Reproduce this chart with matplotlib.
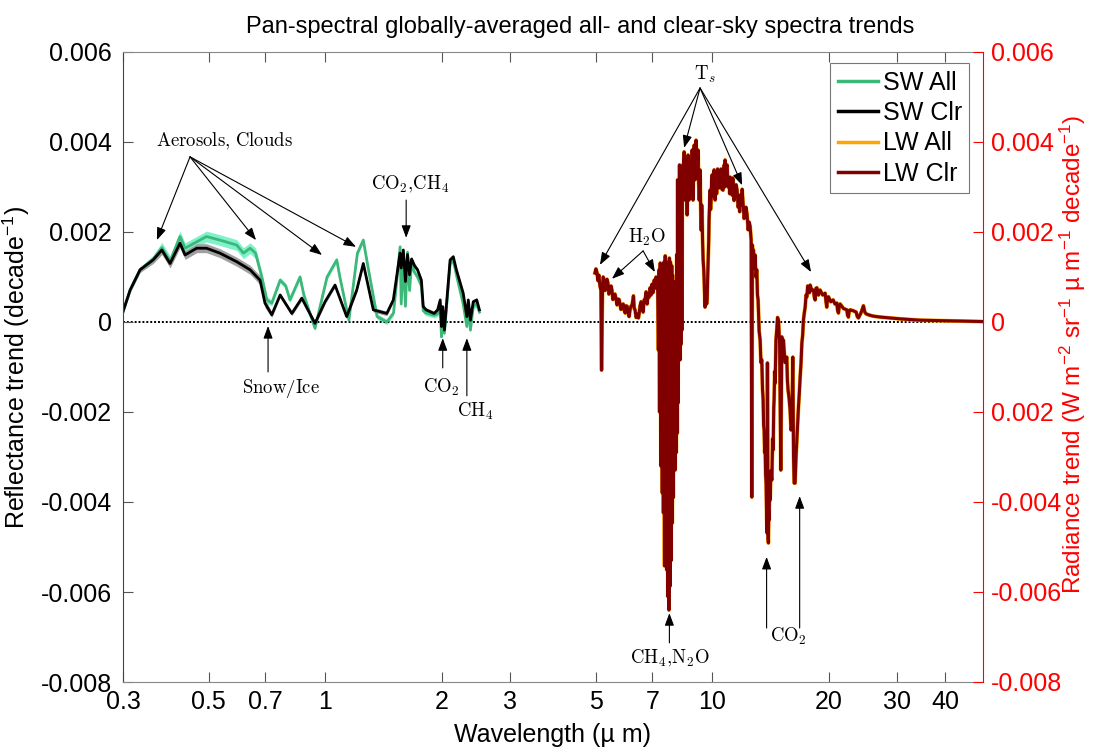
import numpy as np
import matplotlib
matplotlib.use("Agg")
import matplotlib.pyplot as plt
from matplotlib.lines import Line2D
from matplotlib.ticker import FixedLocator, FixedFormatter, NullLocator

plt.rcParams["font.family"] = ["Liberation Sans", "DejaVu Sans"]
plt.rcParams["mathtext.fontset"] = "custom"
plt.rcParams["mathtext.rm"] = "Liberation Sans"
plt.rcParams["mathtext.it"] = "Liberation Sans:italic"
plt.rcParams["mathtext.sf"] = "Liberation Sans"

# ---- data (trends in units of 1e-3 per decade) ----
sw_all_wl = [0.300, 0.313, 0.332, 0.359, 0.378, 0.397, 0.421, 0.434, 0.465, 0.493,
             0.534, 0.590, 0.614, 0.639, 0.660, 0.685, 0.706, 0.727, 0.764, 0.790,
             0.810, 0.860, 0.880, 0.940, 1.010, 1.070, 1.090, 1.150, 1.210, 1.253,
             1.290, 1.360, 1.441, 1.500, 1.560, 1.57, 1.59, 1.61, 1.63, 1.65,
             1.67, 1.70, 1.73, 1.77, 1.79, 1.82, 1.91, 1.95, 1.98, 1.995,
             2.01, 2.03, 2.10, 2.14, 2.18, 2.27, 2.32, 2.34, 2.37, 2.41,
             2.46, 2.50]
sw_all_trend = [0.23, 0.71, 1.16, 1.40, 1.65, 1.35, 1.90, 1.64, 1.78, 1.90,
                1.82, 1.71, 1.53, 1.64, 1.53, 1.00, 0.49, 0.42, 0.93, 0.80,
                0.49, 1.00, 0.60, -0.14, 1.00, 1.38, 1.00, 0.04, 1.53, 1.82,
                1.20, 0.12, 0.00, 0.20, 1.67, 0.40, 1.45, 0.35, 1.55, 0.70,
                1.30, 1.10, 1.00, 0.80, 0.25, 0.20, 0.15, 0.18, 0.30, -0.33,
                0.10, -0.25, 1.30, 1.38, 1.05, 0.40, -0.10, 0.40, -0.18, 0.35,
                0.40, 0.22]
sw_all_err = [0.05, 0.05, 0.06, 0.08] + [0.12] * 12 + [0.08] + [0.06] * 45

sw_clr_wl = [0.300, 0.313, 0.332, 0.359, 0.378, 0.397, 0.421, 0.434, 0.465, 0.493,
             0.534, 0.590, 0.639, 0.678, 0.698, 0.727, 0.764, 0.819, 0.869, 0.940,
             0.998, 1.059, 1.135, 1.205, 1.253, 1.330, 1.441, 1.498, 1.559, 1.57,
             1.59, 1.61, 1.63, 1.65, 1.67, 1.70, 1.73, 1.77, 1.79, 1.82,
             1.91, 1.95, 1.98, 1.995, 2.01, 2.03, 2.10, 2.14, 2.18, 2.27,
             2.32, 2.34, 2.37, 2.41, 2.46, 2.50]
sw_clr_trend = [0.23, 0.71, 1.16, 1.38, 1.60, 1.30, 1.75, 1.49, 1.64, 1.64,
                1.53, 1.34, 1.16, 0.93, 0.42, 0.16, 0.60, 0.19, 0.53, -0.03,
                0.45, 0.82, 0.12, 0.71, 1.30, 0.27, 0.19, 0.49, 1.53, 1.20,
                1.60, 0.90, 1.50, 1.05, 1.40, 1.25, 1.16, 0.93, 0.34, 0.27,
                0.19, 0.27, 0.49, -0.10, 0.34, -0.18, 1.38, 1.45, 1.16, 0.64,
                0.12, 0.49, 0.04, 0.45, 0.49, 0.27]
sw_clr_err = [0.05, 0.05, 0.06, 0.08] + [0.10] * 11 + [0.06] + [0.05] * 40

# LW clear-sky radiance trend, split by spectral region
lw_wl_h2o = [4.97, 5.00, 5.03, 5.06, 5.09, 5.12, 5.15, 5.17, 5.20, 5.22,
             5.25, 5.28, 5.31, 5.34, 5.37, 5.40, 5.44, 5.47, 5.50, 5.53,
             5.57, 5.60, 5.64, 5.67, 5.70, 5.74, 5.77, 5.80, 5.84, 5.88,
             5.91, 5.95, 5.98, 6.02, 6.05, 6.09, 6.13, 6.16, 6.20, 6.25,
             6.28, 6.31, 6.35, 6.39, 6.44, 6.47, 6.50, 6.54, 6.58, 6.62,
             6.66, 6.70, 6.74, 6.78, 6.82, 6.86, 6.90, 6.94, 6.98, 7.02,
             7.07, 7.11, 7.15, 7.18, 7.22]
lw_tr_h2o = [1.09, 1.18, 1.10, 0.92, 1.04, 0.80, 0.71, -1.07, 0.82, 1.00,
             0.93, 0.70, 0.84, 0.95, 0.87, 0.62, 0.67, 0.80, 0.71, 0.50,
             0.58, 0.62, 0.49, 0.38, 0.51, 0.50, 0.40, 0.28, 0.36, 0.40,
             0.27, 0.20, 0.36, 0.35, 0.22, 0.12, 0.29, 0.35, 0.38, 0.58,
             0.30, 0.27, 0.10, 0.18, 0.09, 0.20, 0.36, 0.45, 0.40, 0.22,
             0.49, 0.50, 0.67, 0.40, 0.62, 0.55, 0.76, 0.60, 0.84, 0.65,
             0.93, 0.75, 1.00, 0.85, 0.71]

lw_wl_ch4 = [7.25, 7.28, 7.30, 7.33, 7.36, 7.39, 7.42, 7.44, 7.47, 7.49,
             7.52, 7.55, 7.57, 7.59, 7.62, 7.64, 7.67, 7.70, 7.72, 7.74,
             7.77, 7.79, 7.82, 7.85, 7.87, 7.89, 7.92, 7.94, 7.96, 7.99,
             8.01, 8.04, 8.06, 8.09, 8.11, 8.13, 8.15, 8.17, 8.19, 8.22,
             8.25, 8.27, 8.29, 8.32, 8.34, 8.36, 8.38]
lw_tr_ch4 = [-0.62, 1.16, -2.0, 1.31, -3.20, 1.20, -3.8, 1.25, -4.24, 1.33,
             -5.42, 1.47, -5.0, 1.30, -5.51, 1.33, -6.1, 1.20, -6.40, 1.42,
             -5.87, 1.33, -5.3, 1.25, -4.47, 1.04, -3.9, 0.90, -3.29, 0.71,
             -3.29, 0.49, -2.9, 1.5, -2.47, 3.16, -1.8, 3.0, -0.84, 3.49,
             -0.84, 3.0, -0.5, 2.71, -0.18, 3.2, 3.49]

lw_wl_win = [8.40, 8.45, 8.48, 8.50, 8.53, 8.55, 8.58, 8.60, 8.63, 8.65,
             8.68, 8.70, 8.73, 8.76, 8.78, 8.81, 8.84, 8.86, 8.89, 8.91,
             8.94, 8.97, 9.00, 9.02, 9.05, 9.07, 9.10, 9.13, 9.16, 9.18,
             9.21, 9.24, 9.27, 9.29, 9.32, 9.35, 9.38, 9.40, 9.43, 9.46,
             9.49, 9.52, 9.55, 9.57, 9.60, 9.63, 9.66, 9.69, 9.72, 9.75,
             9.78, 9.80, 9.83, 9.86, 9.89, 9.92, 9.95, 9.98, 10.01, 10.04,
             10.07, 10.10, 10.13, 10.16, 10.19, 10.22, 10.25, 10.28, 10.31, 10.34,
             10.40, 10.46, 10.52, 10.58, 10.65, 10.72, 10.75, 10.78, 10.82, 10.85,
             10.88, 10.91, 10.97, 11.04, 11.08, 11.11, 11.17, 11.24, 11.28, 11.31,
             11.37, 11.44, 11.51, 11.58, 11.65, 11.72, 11.76, 11.79, 11.86, 11.93,
             12.00, 12.07, 12.14, 12.21, 12.29, 12.36, 12.44, 12.51, 12.59, 12.64]
lw_tr_win = [3.27, 3.78, 3.10, 2.71, 3.30, 3.60, 2.90, 2.38, 3.20, 3.71,
             3.00, 2.71, 3.40, 3.60, 3.10, 2.93, 3.50, 3.82, 3.20, 2.71,
             3.50, 3.93, 3.40, 3.16, 3.70, 4.04, 3.50, 3.27, 3.60, 3.82,
             3.10, 2.71, 3.10, 3.38, 2.60, 2.04, 2.60, 2.49, 1.80, 1.38,
             1.20, 0.93, 0.50, 0.33, 0.60, 0.71, 0.40, 0.49, 1.00, 1.38,
             1.80, 2.27, 2.60, 2.93, 2.50, 2.71, 3.10, 3.27, 2.80, 3.04,
             3.30, 3.38, 2.90, 2.71, 3.10, 3.33, 2.85, 3.04, 3.40, 3.33,
             2.98, 3.22, 3.40, 2.95, 2.93, 3.49, 3.00, 3.60, 3.10, 3.04,
             3.45, 3.49, 3.00, 3.20, 2.85, 3.22, 2.90, 2.82, 3.20, 3.16,
             2.70, 2.98, 3.05, 2.93, 2.55, 2.76, 2.45, 2.82, 2.60, 2.95,
             2.64, 2.30, 2.44, 2.55, 2.38, 2.05, 2.22, 2.13, 1.82, -3.89]

lw_wl_co2 = [12.68, 12.72, 12.76, 12.82, 12.89, 12.95, 13.02, 13.07, 13.12, 13.20,
             13.28, 13.34, 13.41, 13.47, 13.52, 13.56, 13.60, 13.64, 13.68, 13.72,
             13.76, 13.80, 13.84, 13.87, 13.91, 13.95, 13.98, 14.01, 14.05, 14.09,
             14.16, 14.24, 14.30, 14.35, 14.40, 14.43, 14.48, 14.52, 14.59, 14.66,
             14.73, 14.81, 14.86, 14.91, 15.02, 15.11, 15.18, 15.25, 15.40, 15.56,
             15.62, 15.68, 15.78, 15.87, 15.96, 16.04, 16.13, 16.20, 16.26, 16.35,
             16.44, 16.52, 16.60, 16.68, 16.76, 16.85, 16.94, 17.02, 17.10, 17.18,
             17.27, 17.36, 17.45, 17.54, 17.62, 17.71, 17.80, 17.88]
lw_tr_co2 = [1.71, 1.30, 1.60, 1.20, 1.49, 1.00, 1.16, 0.60, 0.49, -0.20,
             -0.40, -0.90, -0.84, -1.50, -1.73, -2.30, -2.40, -2.90, -2.77, -3.40,
             -3.58, -4.30, -4.69, -0.91, -4.80, -4.91, -4.20, -4.40, -3.70, -3.96,
             -3.30, -3.51, -2.60, -2.84, -1.90, -1.73, -1.10, -1.36, -0.40, -0.18,
             0.10, 0.04, -0.20, -0.47, -3.29, -0.33, -0.60, -0.40, -0.90, -0.78,
             -1.30, -1.51, -1.70, -1.96, -2.40, -2.24, -0.78, -3.00, -3.58, -3.58,
             -3.00, -2.62, -2.20, -1.89, -1.60, -1.22, -0.90, -0.47, -0.30, 0.04,
             0.20, 0.33, 0.60, 0.56, 0.80, 0.78, 0.65, 0.82]

lw_wl_far = [18.06, 18.24, 18.33, 18.42, 18.52, 18.61, 18.79, 18.97, 19.26, 19.55,
             19.65, 19.74, 19.84, 19.94, 20.22, 20.50, 20.73, 20.96, 21.06, 21.16,
             21.26, 21.37, 21.80, 22.24, 22.34, 22.45, 22.56, 22.68, 23.10, 23.51,
             23.67, 23.83, 24.19, 24.55, 24.75, 24.95, 25.50, 26.05, 27.12, 28.78,
             30.5, 34.4, 38.7, 43.6, 50.0]
lw_tr_far = [0.70, 0.71, 0.55, 0.49, 0.75, 0.76, 0.60, 0.71, 0.60, 0.64,
             0.45, 0.33, 0.55, 0.56, 0.45, 0.49, 0.40, 0.42, 0.25, 0.20,
             0.35, 0.40, 0.30, 0.27, 0.15, 0.11, 0.25, 0.27, 0.25, 0.22,
             0.12, 0.09, 0.20, 0.36, 0.22, 0.18, 0.15, 0.13, 0.11, 0.09,
             0.07, 0.04, 0.03, 0.02, 0.01]

lw_wl = lw_wl_h2o + lw_wl_ch4 + lw_wl_win + lw_wl_co2 + lw_wl_far
lw_clr_trend = lw_tr_h2o + lw_tr_ch4 + lw_tr_win + lw_tr_co2 + lw_tr_far
# all-sky LW is indistinguishable from clear-sky at this resolution
lw_all_trend = list(lw_clr_trend)

xtick_vals = [0.3, 0.5, 0.7, 1, 2, 3, 5, 7, 10, 20, 30, 40]
xtick_labels = ["0.3", "0.5", "0.7", "1", "2", "3", "5", "7", "10", "20", "30", "40"]
ytick_vals = [0.006, 0.004, 0.002, 0, -0.002, -0.004, -0.006, -0.008]
left_labels = ["0.006", "0.004", "0.002", "0", "-0.002", "-0.004", "-0.006", "-0.008"]
right_labels = ["0.006", "0.004", "0.002", "0", "0.002", "-0.004", "-0.006", "-0.008"]

C_SW_ALL = "#3cb878"
C_SW_ALL_BAND = "#7ff2cc"
C_SW_CLR = "black"
C_SW_CLR_BAND = "#a0a0a0"
C_LW_ALL = "#ffa500"
C_LW_CLR = "#800000"
C_RIGHT = "#ff0000"

e3 = 1e-3

fig = plt.figure(figsize=(10.94, 7.51), dpi=100)
ax = fig.add_axes([123 / 1094, 1 - 682 / 751, 860 / 1094, 630 / 751])
ax2 = ax.twinx()

# SW (left axis)
sw_all = np.array(sw_all_trend) * e3
sw_clr = np.array(sw_clr_trend) * e3
ax.fill_between(sw_all_wl, sw_all - np.array(sw_all_err) * e3,
                sw_all + np.array(sw_all_err) * e3, color=C_SW_ALL_BAND, lw=0)
ax.fill_between(sw_clr_wl, sw_clr - np.array(sw_clr_err) * e3,
                sw_clr + np.array(sw_clr_err) * e3, color=C_SW_CLR_BAND, lw=0)
ax.plot(sw_all_wl, sw_all, color=C_SW_ALL, lw=2.0)
ax.plot(sw_clr_wl, sw_clr, color=C_SW_CLR, lw=2.0)
ax.axhline(0, color="black", ls=(0, (1, 1)), lw=1.4, zorder=1)

# LW (right axis)
ax2.plot(lw_wl, np.array(lw_all_trend) * e3, color=C_LW_ALL, lw=2.8)
ax2.plot(lw_wl, np.array(lw_clr_trend) * e3, color=C_LW_CLR, lw=2.2)

for a in (ax, ax2):
    a.set_xscale("log")
    a.set_xlim(0.3, 50)
    a.set_ylim(-0.008, 0.006)

ax.xaxis.set_major_locator(FixedLocator(xtick_vals))
ax.xaxis.set_major_formatter(FixedFormatter(xtick_labels))
ax.xaxis.set_minor_locator(NullLocator())
ax.yaxis.set_major_locator(FixedLocator(ytick_vals))
ax.yaxis.set_major_formatter(FixedFormatter(left_labels))
ax2.yaxis.set_major_locator(FixedLocator(ytick_vals))
ax2.yaxis.set_major_formatter(FixedFormatter(right_labels))
ax2.yaxis.set_minor_locator(NullLocator())

ax.tick_params(axis="x", which="both", direction="in", top=True, length=7,
               width=0.8, color="#555555", labelsize=18, pad=6)
ax.tick_params(axis="y", direction="in", length=7, width=0.8, color="#555555",
               labelsize=18, pad=8)
ax2.tick_params(axis="y", direction="in", length=7, width=0.8, color=C_RIGHT,
                labelcolor=C_RIGHT, labelsize=18, pad=6)

for s in ("top", "bottom", "left"):
    ax.spines[s].set_color("#888888")
ax.spines["left"].set_color("#444444")
ax.spines["right"].set_visible(False)
for s in ("top", "bottom", "left"):
    ax2.spines[s].set_visible(False)
ax2.spines["right"].set_color(C_RIGHT)

ax.set_xlabel("Wavelength (\u00b5 m)", fontsize=18, labelpad=6)
ax.set_ylabel("Reflectance trend (decade$^{-1}$)", fontsize=18, labelpad=6)
ax2.set_ylabel("Radiance trend (W m$^{-2}$ sr$^{-1}$ \u00b5 m$^{-1}$ decade$^{-1}$)",
               fontsize=17.5, color=C_RIGHT)
ax2.yaxis.set_label_coords((1058 - 123) / 860, 0.52)
ax.set_title("Pan-spectral globally-averaged all- and clear-sky spectra trends",
             fontsize=17, pad=14, x=(580 - 123) / 860)

handles = [Line2D([], [], color=C_SW_ALL, lw=2.5),
           Line2D([], [], color=C_SW_CLR, lw=2.5),
           Line2D([], [], color=C_LW_ALL, lw=2.5),
           Line2D([], [], color=C_LW_CLR, lw=2.5)]
leg = ax2.legend(handles, ["SW All", "SW Clr", "LW All", "LW Clr"],
                 loc="upper right", bbox_to_anchor=(0.99, 0.99), fontsize=18,
                 fancybox=False, framealpha=1, edgecolor="#777777",
                 handlelength=1.6, handletextpad=0.2, borderpad=0.3,
                 labelspacing=0.25, borderaxespad=0.2)
leg.get_frame().set_linewidth(0.8)

# annotations: (text, text position, [(arrow start, arrow head), ...])
notes = [
    (r"$\mathrm{Aerosols{,}\ Clouds}$", (0.55, 4.02e-3),
     [((0.447, 3.67e-3), (0.367, 1.82e-3)), ((0.447, 3.67e-3), (0.662, 1.82e-3)),
      ((0.447, 3.67e-3), (0.98, 1.49e-3)), ((0.447, 3.67e-3), (1.20, 1.67e-3))]),
    (r"$\mathrm{CO_2{,}CH_4}$", (1.654, 3.05e-3),
     [((1.617, 2.71e-3), (1.617, 1.87e-3))]),
    (r"$\mathrm{Snow/Ice}$", (0.768, -1.47e-3),
     [((0.711, -1.11e-3), (0.711, -0.09e-3))]),
    (r"$\mathrm{CO_2}$", (1.99, -1.45e-3),
     [((2.01, -1.02e-3), (2.01, -0.36e-3))]),
    (r"$\mathrm{CH_4}$", (2.44, -1.99e-3),
     [((2.32, -1.64e-3), (2.32, -0.36e-3))]),
    (r"$\mathrm{T}_s$", (9.57, 5.5e-3),
     [((9.29, 5.2e-3), (5.12, 1.27e-3)), ((9.29, 5.2e-3), (8.45, 3.87e-3)),
      ((9.29, 5.2e-3), (11.93, 3.04e-3)), ((9.29, 5.2e-3), (17.98, 1.11e-3))]),
    (r"$\mathrm{H_2O}$", (6.78, 1.89e-3),
     [((6.62, 1.58e-3), (5.50, 0.96e-3)), ((6.62, 1.58e-3), (7.10, 1.11e-3))]),
    (r"$\mathrm{CH_4{,}N_2O}$", (7.77, -7.47e-3),
     [((7.74, -7.13e-3), (7.74, -6.47e-3))]),
    (r"$\mathrm{CO_2}$", (15.7, -6.99e-3),
     [((13.8, -6.8e-3), (13.8, -5.22e-3)), ((16.8, -6.8e-3), (16.8, -3.87e-3))]),
]
arrow_kw = dict(arrowstyle="-|>,head_length=0.75,head_width=0.28", color="black",
                lw=0.8, shrinkA=0, shrinkB=0)
for text, pos, arrows in notes:
    ax2.text(pos[0], pos[1], text, ha="center", va="center", fontsize=13.5,
             math_fontfamily="cm", zorder=6)
    for start, head in arrows:
        ax2.annotate("", xy=head, xytext=start, arrowprops=arrow_kw, zorder=6)

fig.savefig("out.png", dpi=100)
